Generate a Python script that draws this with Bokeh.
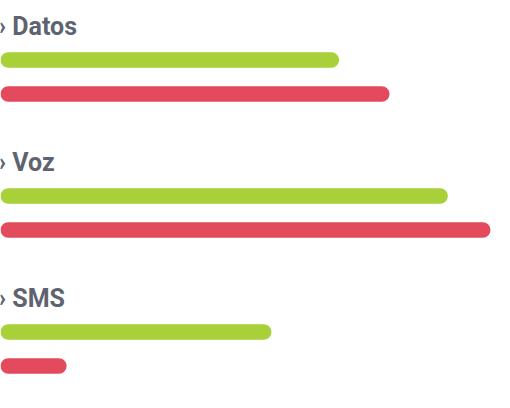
from bokeh.plotting import figure
from bokeh.models import Range1d, ColumnDataSource
from bokeh.embed import file_html
from bokeh.resources import INLINE
from bokeh.core.properties import value

categories = ["Datos", "Voz", "SMS"]
series_green = [69.1, 91.3, 55.3]
series_red = [79.4, 100.0, 13.5]

GREEN = "#a8d038"
RED = "#e34a5b"
TEXT = "#5d6470"

W, H = 502, 400
scale = 4.9  # px per unit
p = figure(width=W, height=H, output_backend="svg", toolbar_location=None,
           x_range=Range1d(0, W / scale), y_range=Range1d(H, 0),
           min_border=0, min_border_left=0, min_border_right=0,
           min_border_top=0, min_border_bottom=0)
p.axis.visible = False
p.grid.visible = False
p.outline_line_color = None
p.background_fill_color = "white"
p.border_fill_color = "white"

step = 136
head_y = [25.5 + step * i for i in range(len(categories))]
green_y = [59.5 + step * i for i in range(len(categories))]
red_y = [93.5 + step * i for i in range(len(categories))]

src_g = ColumnDataSource(dict(y=green_y, right=series_green))
src_r = ColumnDataSource(dict(y=red_y, right=series_red))
p.hbar(y="y", left=0, right="right", height=15.5, source=src_g,
       fill_color=GREEN, line_color=None, border_radius=8)
p.hbar(y="y", left=0, right="right", height=15.5, source=src_r,
       fill_color=RED, line_color=None, border_radius=8)

src_t = ColumnDataSource(dict(x=[0] * len(categories), y=head_y,
                              text=["› " + c for c in categories]))
p.text(x="x", y="y", text="text", source=src_t, x_offset=-2,
       text_font=value("Roboto"), text_font_style="bold",
       text_font_size="25px", text_color=TEXT, text_baseline="alphabetic",
       text_align="left")

open("out.html", "w").write(file_html(p, INLINE))
